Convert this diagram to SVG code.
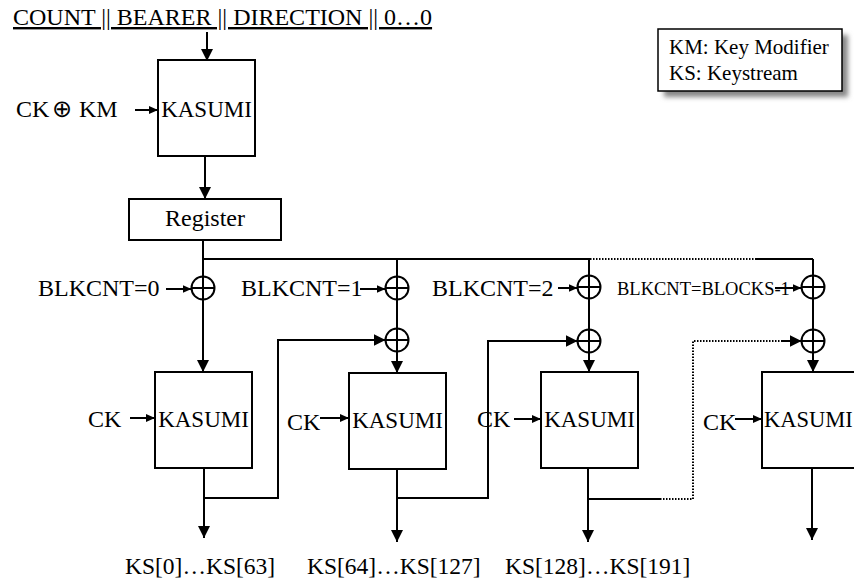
<svg xmlns="http://www.w3.org/2000/svg" width="854" height="584" viewBox="0 0 854 584">
<style>
text{font-family:"Liberation Serif","Times New Roman",serif;font-size:24px;fill:#000}
text.k{font-size:23px}
text.f21{font-size:21px}
text.f18{font-size:18.5px}
text.f23{font-size:23.5px}
.box{fill:#fff;stroke:#000;stroke-width:2}
.ln{fill:none;stroke:#000;stroke-width:2}
.dot{fill:none;stroke:#000;stroke-width:2;stroke-dasharray:1.5 1.5}
.x{fill:none;stroke:#000;stroke-width:2}
.a{marker-end:url(#ah)}
.s{marker-end:url(#sm)}
</style>
<defs>
<marker id="ah" viewBox="0 0 12 12" refX="12" refY="6" markerWidth="12" markerHeight="12" orient="auto" markerUnits="userSpaceOnUse"><path d="M0,0 L12,6 L0,12 z" fill="#000"/></marker>
<marker id="sm" viewBox="0 0 9 8" refX="9" refY="4" markerWidth="9" markerHeight="8" orient="auto" markerUnits="userSpaceOnUse"><path d="M0,0 L9,4 L0,8 z" fill="#000"/></marker>
<filter id="blur" x="-20%" y="-20%" width="140%" height="140%"><feGaussianBlur stdDeviation="2.5"/></filter>
</defs>

<g id="title"><text x="13" y="25" text-decoration="underline">COUNT || BEARER || DIRECTION || 0…0</text></g>

<g id="legend">
<rect x="664" y="35" width="184" height="62" fill="#888" filter="url(#blur)"/>
<rect x="658" y="29" width="184" height="62" fill="#fff" stroke="#000" stroke-width="1.5"/>
<text class="f21" x="669" y="54">KM: Key Modifier</text>
<text class="f21" x="669" y="80">KS: Keystream</text>
</g>

<g id="kasumi0"><rect class="box" x="158" y="60" width="97" height="96"/><text class="k" x="206.5" y="117" text-anchor="middle">KASUMI</text></g>
<g id="ckkm"><text x="16" y="117">CK<tspan x="52" font-family="DejaVu Sans,sans-serif" style="font-size:24px">⊕</tspan><tspan x="79">KM</tspan></text></g>
<g id="register"><rect class="box" x="129" y="199" width="152" height="41"/><text x="205" y="226" text-anchor="middle">Register</text></g>

<g id="kasumi1"><rect class="box" x="155" y="372" width="97" height="96"/><text class="k" x="203.5" y="427" text-anchor="middle">KASUMI</text></g>
<g id="kasumi2"><rect class="box" x="349" y="373" width="97" height="96"/><text class="k" x="397.5" y="428" text-anchor="middle">KASUMI</text></g>
<g id="kasumi3"><rect class="box" x="541" y="372" width="97" height="96"/><text class="k" x="589.5" y="427" text-anchor="middle">KASUMI</text></g>
<g id="kasumi4"><rect class="box" x="762" y="372" width="97" height="96"/><text class="k" x="764" y="427" style="font-size:22.5px">KASUMI</text></g>

<g id="labels">
<text x="38" y="296">BLKCNT=0</text>
<text x="241" y="296">BLKCNT=1</text>
<text x="432" y="296">BLKCNT=2</text>
<text class="f18" x="617" y="295">BLKCNT=BLOCKS-1</text>
<text x="88" y="427">CK</text>
<text x="287" y="430">CK</text>
<text x="477" y="427">CK</text>
<text x="703" y="430">CK</text>
<text class="f23" x="125" y="574">KS[0]…KS[63]</text>
<text class="f23" x="307" y="574">KS[64]…KS[127]</text>
<text class="f23" x="505" y="574">KS[128]…KS[191]</text>
</g>

<g id="connectors">
<path class="ln a" d="M207,32 V61"/>
<path class="ln s" d="M135,110 H158"/>
<path class="ln a" d="M205,157 V199"/>
<path class="ln a" d="M203,240 V372"/>
<path class="ln" d="M203,259 H590"/>
<path class="dot" d="M590,259 H755"/>
<path class="ln" d="M755,259 H813"/>
<path class="ln a" d="M397,259 V373"/>
<path class="ln a" d="M589,259 V372"/>
<path class="ln a" d="M813,259 V372"/>
<path class="ln s" d="M166,289 H191.5"/>
<path class="ln s" d="M360,289 H385.5"/>
<path class="ln s" d="M558,288 H577.5"/>
<path class="ln s" d="M775,288 H801.5"/>
<path class="ln s" d="M130,418 H155"/>
<path class="ln s" d="M320,418 H349"/>
<path class="ln s" d="M514,419 H541"/>
<path class="ln s" d="M735,419 H762"/>
<path class="ln a" d="M204,468 V538"/>
<path class="ln a" d="M204,498 H278 V340 H385.5"/>
<path class="ln a" d="M397,469 V542"/>
<path class="ln a" d="M397,498 H488 V341 H577.5"/>
<path class="ln a" d="M588,468 V542"/>
<path class="ln" d="M588,499 H660"/>
<path class="dot" d="M660,499 H693 V341 H783"/>
<path class="ln a" d="M782,341 H801.5"/>
<path class="ln a" d="M812,468 V540"/>
</g>

<g id="xors" class="x">
<circle cx="203" cy="288" r="11.5"/><path d="M191.5,288 H214.5"/>
<circle cx="397" cy="288" r="11.5"/><path d="M385.5,288 H408.5"/>
<circle cx="589" cy="287" r="11.5"/><path d="M577.5,287 H600.5"/>
<circle cx="813" cy="287" r="11.5"/><path d="M801.5,287 H824.5"/>
<circle cx="397" cy="340" r="11.5"/><path d="M385.5,340 H408.5"/>
<circle cx="589" cy="341" r="11.5"/><path d="M577.5,341 H600.5"/>
<circle cx="813" cy="341" r="11.5"/><path d="M801.5,341 H824.5"/>
</g>
</svg>
